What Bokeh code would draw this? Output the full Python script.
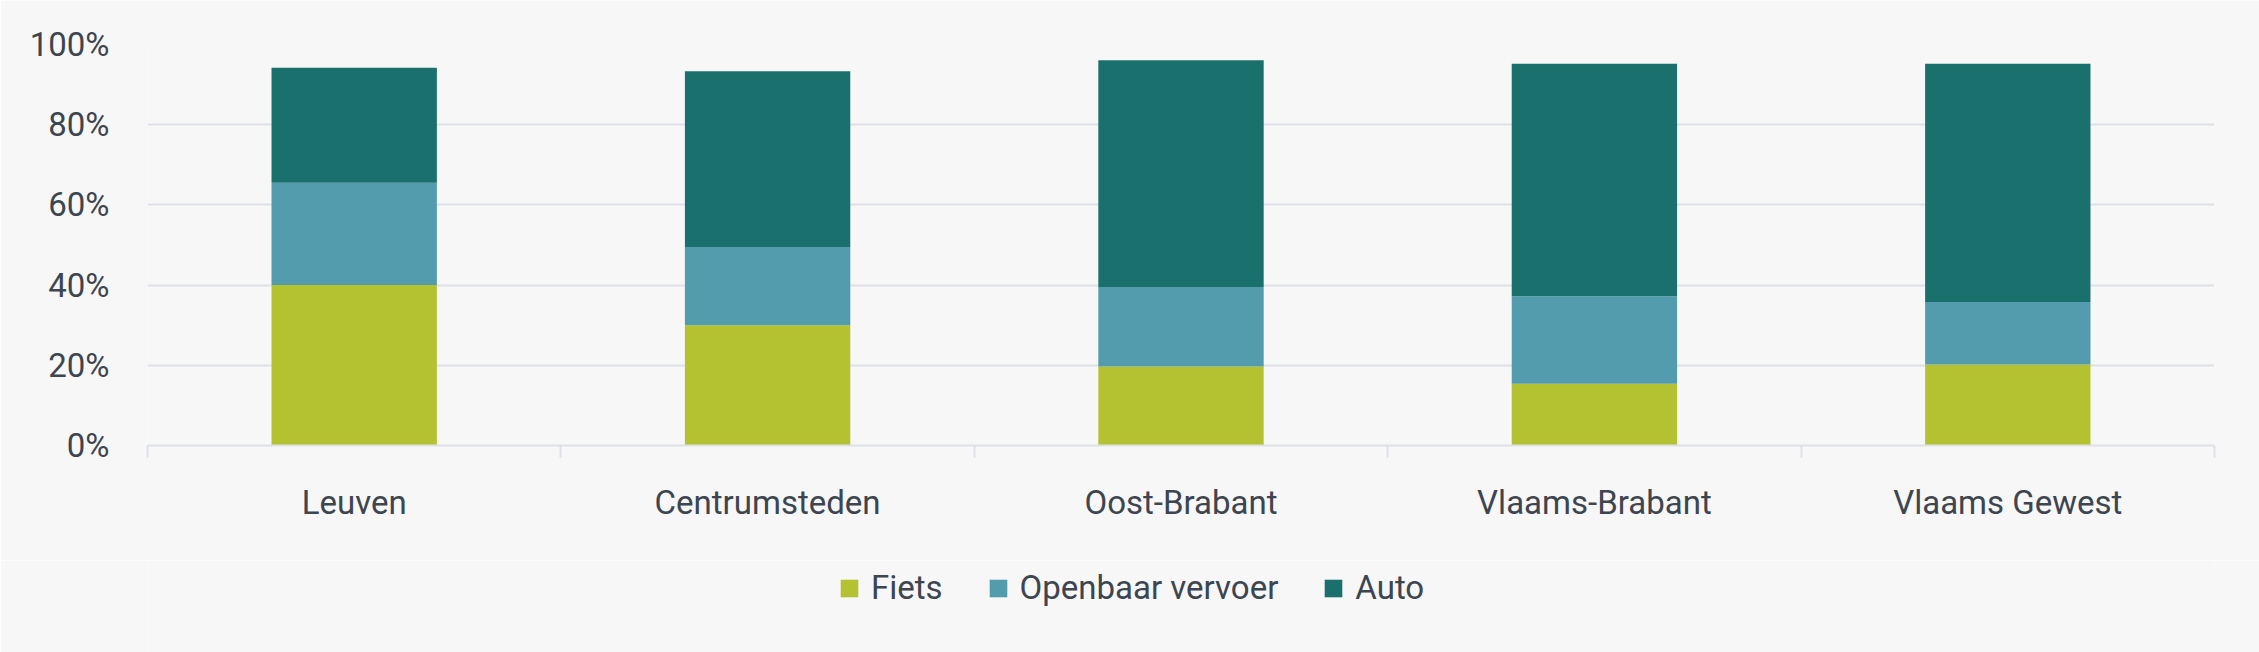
from bokeh.plotting import figure
from bokeh.models import Range1d, FixedTicker, PrintfTickFormatter, Legend
from bokeh.layouts import column
from bokeh.embed import file_html
from bokeh.resources import INLINE
import numpy as np

categories = ["Leuven", "Centrumsteden", "Oost-Brabant", "Vlaams-Brabant", "Vlaams Gewest"]
fiets = [40.0, 30.0, 19.7, 15.4, 20.2]
openbaar_vervoer = [25.5, 19.5, 19.8, 21.8, 15.6]
auto = [28.7, 43.8, 56.6, 58.0, 59.4]
series_names = ["Fiets", "Openbaar vervoer", "Auto"]
series_colors = ["#b4c232", "#529cae", "#1a706d"]
y_ticks = [0, 20, 40, 60, 80, 100]

FONT = "Roboto"
TEXT = "#3c4550"
GRID = "#dde1e7"
BG = "#f7f7f7"

xs = (np.arange(len(categories)) + 0.5).tolist()
data = dict(x=xs, Fiets=fiets, **{"Openbaar vervoer": openbaar_vervoer}, Auto=auto)

p = figure(width=2259, height=560, output_backend="svg", toolbar_location=None,
           x_range=Range1d(0, len(categories)), y_range=Range1d(0, 100),
           min_border_left=147, min_border_right=45, min_border_top=44, min_border_bottom=115)
p.background_fill_color = BG
p.border_fill_color = BG
p.outline_line_color = None

p.vbar_stack(series_names, x="x", width=0.4, source=data, color=series_colors, line_color=None)

# y axis
p.yaxis.ticker = FixedTicker(ticks=y_ticks)
p.yaxis.formatter = PrintfTickFormatter(format="%d%%")
p.yaxis.axis_line_color = None
p.yaxis.major_tick_line_color = None
p.yaxis.minor_tick_line_color = None
p.yaxis.major_tick_out = 0
p.yaxis.major_label_standoff = 38
p.yaxis.major_label_text_font = FONT
p.yaxis.major_label_text_font_size = "33px"
p.yaxis.major_label_text_color = TEXT

# x axis
p.xaxis.ticker = FixedTicker(ticks=xs, minor_ticks=list(range(len(categories) + 1)))
p.xaxis.major_label_overrides = {x: c for x, c in zip(xs, categories)}
p.xaxis.major_tick_line_color = None
p.xaxis.major_tick_out = 0
p.xaxis.major_tick_in = 0
p.xaxis.minor_tick_line_color = GRID
p.xaxis.minor_tick_line_width = 2
p.xaxis.minor_tick_out = 12
p.xaxis.minor_tick_in = 0
p.xaxis.axis_line_color = GRID
p.xaxis.axis_line_width = 2
p.xaxis.major_label_standoff = 25
p.xaxis.major_label_text_font = FONT
p.xaxis.major_label_text_font_size = "33px"
p.xaxis.major_label_text_color = TEXT

p.xgrid.grid_line_color = None
p.ygrid.ticker = FixedTicker(ticks=y_ticks)
p.ygrid.grid_line_color = GRID
p.ygrid.grid_line_width = 2

# legend strip below the chart; its swatch renderers have zero-size marks
pl = figure(width=2259, height=92, output_backend="svg", toolbar_location=None,
            x_range=Range1d(0, len(categories)), y_range=Range1d(0, 100),
            x_axis_type=None, y_axis_type=None, min_border=0)
pl.background_fill_color = BG
pl.border_fill_color = BG
pl.outline_line_color = None
pl.grid.visible = False
swatches = [pl.vbar(x=xs, top=vals, bottom=vals, width=0, color=c, line_color=None)
            for vals, c in zip([fiets, openbaar_vervoer, auto], series_colors)]

legend = Legend(items=[(n, [r]) for n, r in zip(series_names, swatches)],
                location=(691, 45), orientation="horizontal")
legend.background_fill_alpha = 0
legend.border_line_color = None
legend.padding = 0
legend.margin = 0
legend.spacing = 44
legend.glyph_width = 22
legend.glyph_height = 22
legend.label_standoff = 11
legend.label_text_font = FONT
legend.label_text_font_size = "33px"
legend.label_text_color = TEXT
pl.add_layout(legend, "center")

layout = column(p, pl, spacing=0)
open("out.html", "w").write(file_html(layout, INLINE))
